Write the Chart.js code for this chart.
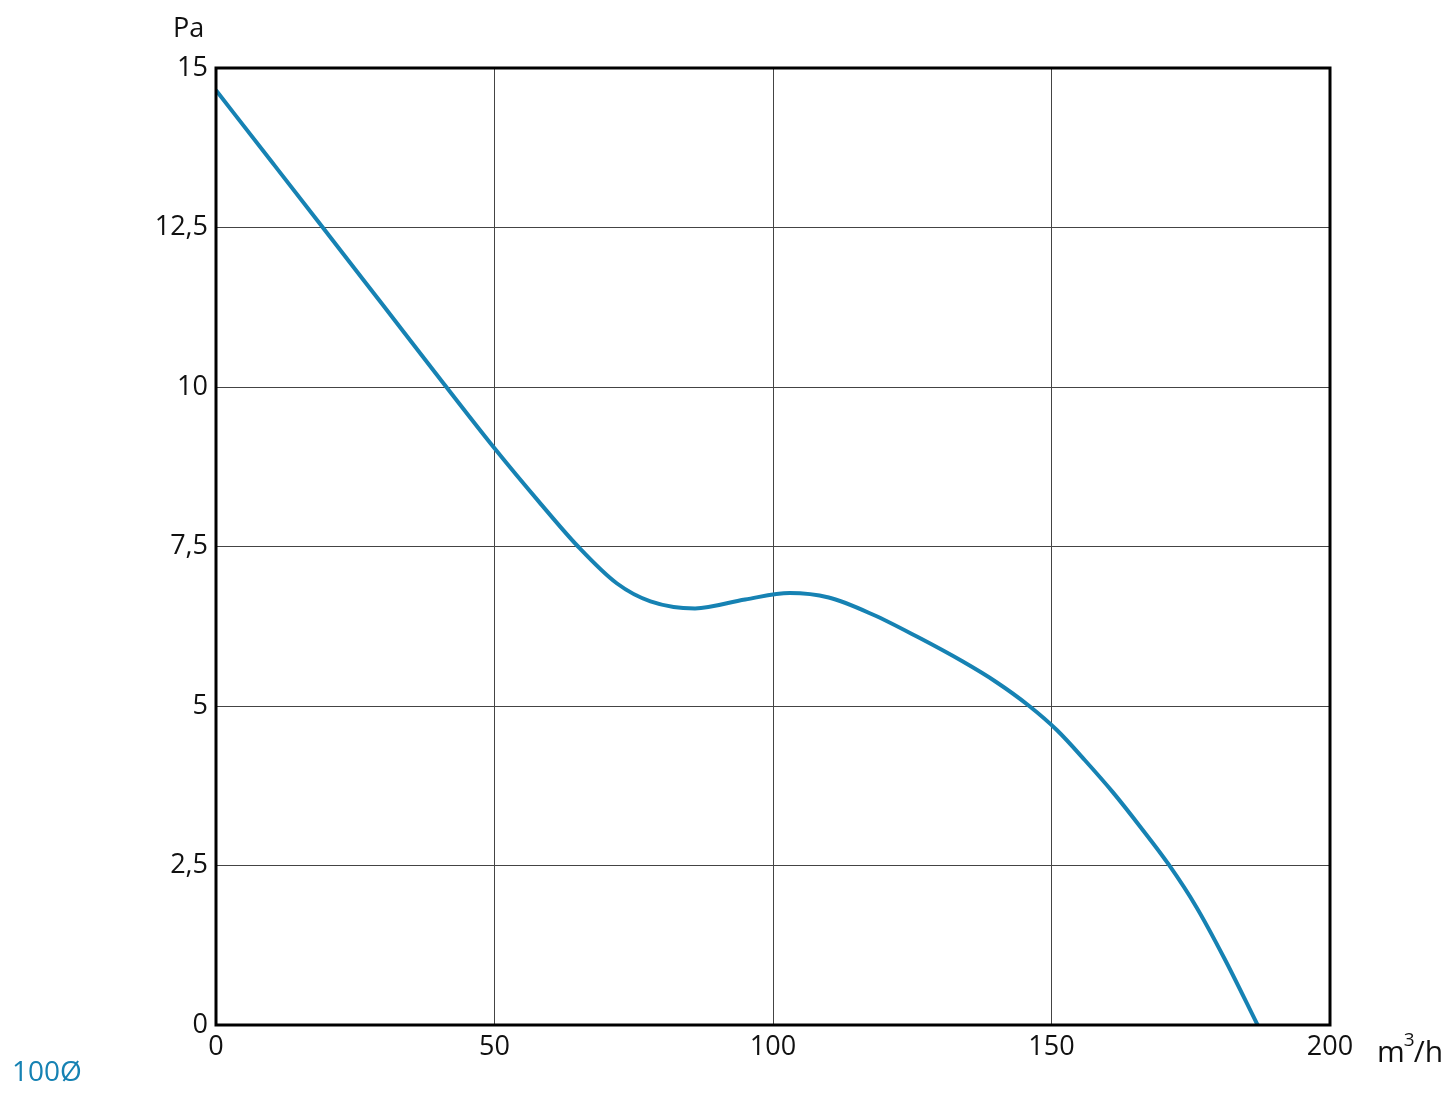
<!DOCTYPE html>
<html>
<head>
<meta charset="utf-8">
<script src="https://cdn.jsdelivr.net/npm/chart.js@4.4.1/dist/chart.umd.min.js"></script>
<style>
  html,body{margin:0;padding:0;background:#fff;}
  #wrap{width:1445px;height:1096px;}
</style>
</head>
<body>
<div id="wrap"><canvas id="chart" width="1445" height="1096"></canvas></div>
<script>
// airflow (m3/h) vs pressure (Pa)
const flow  = [0, 10, 19, 30, 41, 50, 58, 65, 72, 78, 86, 95, 103, 110, 118, 126, 134, 140, 146, 151, 156, 161, 166, 171, 176, 181, 187];
const press = [14.65, 13.53, 12.52, 11.28, 10.04, 9.04, 8.2, 7.5, 6.92, 6.64, 6.53, 6.67, 6.77, 6.7, 6.43, 6.08, 5.7, 5.38, 5.0, 4.62, 4.15, 3.65, 3.1, 2.52, 1.85, 1.05, 0];
const yTicks = [0, 2.5, 5, 7.5, 10, 12.5, 15];
const xTicks = [0, 50, 100, 150, 200];

const lineColor = "#1682b3";
const font = "'Open Sans', 'Noto Sans', sans-serif";

const extras = {
  id: "extras",
  afterDraw(chart){
    const {ctx, chartArea:a} = chart;
    ctx.save();
    ctx.strokeStyle = "#000";
    ctx.lineWidth = 3;
    ctx.strokeRect(a.left, a.top, a.right - a.left, a.bottom - a.top);
    ctx.fillStyle = "#111";
    ctx.textBaseline = "alphabetic";
    ctx.textAlign = "left";
    ctx.font = "27px " + font;
    ctx.fillText("Pa", 173, 37);
    // m3/h unit
    ctx.font = "30px " + font;
    let x = 1377;
    ctx.fillText("m", x, 1062);
    x += ctx.measureText("m").width;
    ctx.font = "19px " + font;
    ctx.fillText("3", x - 1, 1046);
    x += ctx.measureText("3").width - 2;
    ctx.font = "30px " + font;
    ctx.fillText("/h", x, 1062);
    ctx.fillStyle = lineColor;
    ctx.font = "28px " + font;
    ctx.fillText("100Ø", 12, 1081);
    ctx.restore();
  }
};

new Chart(document.getElementById("chart"), {
  type: "line",
  data: {
    datasets: [{
      data: flow.map((x, i) => ({x, y: press[i]})),
      borderColor: lineColor,
      borderWidth: 4,
      pointRadius: 0,
      cubicInterpolationMode: "monotone",
      fill: false
    }]
  },
  options: {
    responsive: false,
    animation: false,
    layout: {padding: {top: 68, right: 115, left: 0, bottom: 0}},
    plugins: {legend: {display: false}, tooltip: {enabled: false}},
    scales: {
      x: {
        type: "linear", min: 0, max: 200,
        afterBuildTicks: s => { s.ticks = xTicks.map(v => ({value: v})); },
        afterFit: s => { s.height = 1096 - 1025; },
        grid: {color: "#444", lineWidth: 1, drawTicks: false},
        border: {display: false},
        ticks: {color: "#111", font: {size: 27, family: font}, padding: 6, maxRotation: 0}
      },
      y: {
        type: "linear", min: 0, max: 15,
        afterBuildTicks: s => { s.ticks = yTicks.map(v => ({value: v})); },
        afterFit: s => { s.width = 216; },
        grid: {color: "#444", lineWidth: 1, drawTicks: false},
        border: {display: false},
        ticks: {color: "#111", font: {size: 27, family: font}, padding: 8,
          callback: v => String(v).replace(".", ",")}
      }
    }
  },
  plugins: [extras]
});
</script>
</body>
</html>
